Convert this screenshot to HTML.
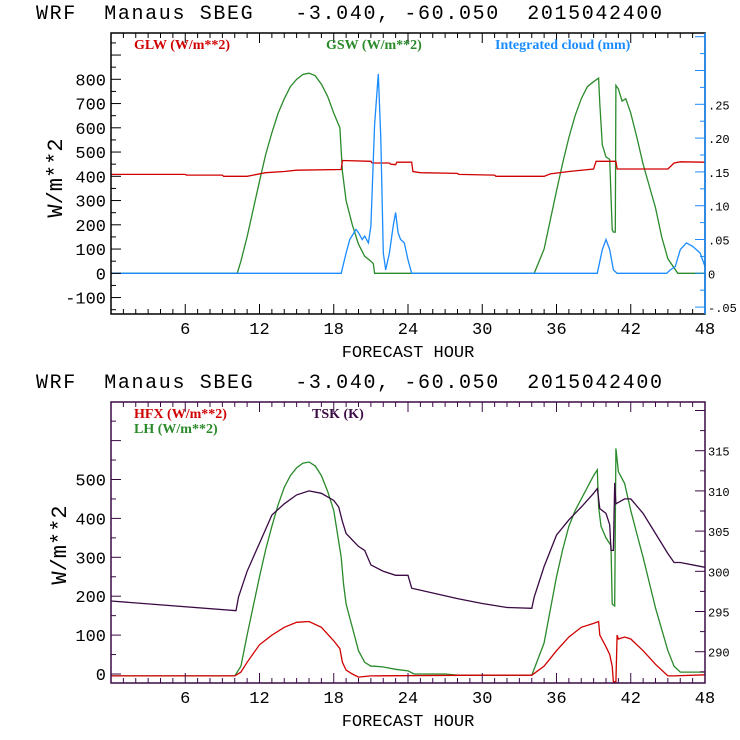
<!DOCTYPE html>
<html><head><meta charset="utf-8">
<style>
html,body{margin:0;padding:0;background:#fff;}
svg{display:block;font-family:"Liberation Mono",monospace;}
</style></head>
<body>
<svg id="chart" width="740" height="740" viewBox="0 0 740 740" xmlns="http://www.w3.org/2000/svg"></svg>
<script>
// ---------- data ----------
const xTicks = [6,12,18,24,30,36,42,48];
const topLeftTicks = [-100,0,100,200,300,400,500,600,700,800];
const topRightTicks = [-0.05,0,0.05,0.10,0.15,0.20,0.25];
const topRightLabels = ['-.05','0','.05','.10','.15','.20','.25'];
const botLeftTicks = [0,100,200,300,400,500];
const botRightTicks = [290,295,300,305,310,315];

const gswT = [0,10.2,10.5,11,11.5,12,12.5,13,13.5,14,14.5,15,15.5,16,16.5,17,17.5,18,18.5,18.7,19,19.5,20,20.5,21,21.2,21.3,34.2,35,35.5,36,36.5,37,37.5,38,38.5,39,39.4,39.5,39.7,40,40.3,40.5,40.6,40.75,40.8,41,41.3,41.6,42,42.5,43,43.5,44,44.5,45,45.8,48];
const gswV = [0,0,50,150,265,380,490,580,660,720,770,800,820,825,815,780,730,660,600,420,300,200,120,70,50,40,0,0,100,220,340,455,560,650,720,770,790,805,700,530,480,470,180,170,170,775,760,710,720,660,560,450,360,270,150,60,0,0];

const glwT = [0,6,6.1,9,9.1,11,11.5,12.5,14,15,18.6,18.7,21,21.1,22.5,22.6,23,23.1,24.3,24.4,25,28,28.1,31,31.1,35,35.5,37,39,39.2,40.8,40.9,45,45.5,46,48];
const glwV = [408,408,405,405,400,400,405,415,420,425,428,465,462,455,455,450,448,458,458,420,415,412,408,405,400,400,410,420,430,462,462,430,430,455,460,458];

const cloudT = [0,18.6,19,19.3,19.8,20,20.3,20.5,20.8,21,21.3,21.6,21.8,22,22.2,22.5,22.8,23,23.2,23.4,23.7,24,24.3,39.3,39.7,40,40.3,40.6,40.9,44.9,45.2,45.6,46,46.5,47,47.6,48];
const cloudV = [0,0,0.03,0.05,0.065,0.06,0.05,0.055,0.045,0.07,0.22,0.295,0.2,0.03,0.005,0.03,0.07,0.09,0.06,0.05,0.045,0.02,0,0,0.035,0.05,0.035,0.005,0,0,0.005,0.01,0.035,0.045,0.04,0.03,0.01];

const lhT = [0,10,10.5,11,11.5,12,12.5,13,13.5,14,14.5,15,15.5,16,16.5,17,17.5,18,18.6,18.8,19,19.5,20,20.5,21,21.3,22,23,24,24.5,27,28,34,35,35.5,36,36.5,37,37.5,38,38.5,39,39.3,39.4,39.6,40,40.4,40.5,40.7,40.8,41,41.5,42,42.5,43,43.5,44,45,45.5,46,48];
const lhV = [-5,-5,20,100,175,250,320,380,435,480,510,530,542,545,535,510,470,420,300,230,180,120,60,30,20,20,18,12,8,0,0,-3,-3,80,165,250,320,380,420,450,480,510,525,430,380,350,330,180,175,580,520,490,420,360,300,235,170,60,20,5,5];

const tskT = [0,10.1,10.3,11,12,13,14,15,16,17,18,18.4,18.7,19,20,20.5,21,22,23,24,24.3,26,28,30,32,34,34.2,35,36,37,38,39,39.3,39.5,40,40.3,40.4,40.6,40.7,40.8,41.5,42,43,44,45,45.5,46,48];
const tskV = [296.3,295.1,296.8,300,303.5,307,308.4,309.5,310,309.7,308.8,308,306.2,304.7,303.1,302.6,300.8,300,299.5,299.5,297.9,297.3,296.6,296,295.5,295.4,296.8,300.6,304.5,306.4,308,309.7,310.3,307.8,307.2,305.8,302.6,302.6,311,308.4,309,309,307.2,304.7,302.2,301.1,301.1,300.5];

const hfxT = [0,10,10.5,11,12,13,14,15,16,17,18,18.5,18.7,19,19.5,20,21,30,34,35,36,37,38,39,39.4,39.5,40,40.3,40.5,40.6,40.8,40.9,41,41.5,42,43,44,45,45.5,48];
const hfxV = [-5,-5,5,30,75,100,120,133,135,120,85,65,30,10,0,-8,-5,-3,-3,20,60,95,120,130,135,100,70,50,20,-20,-20,100,90,95,90,60,25,-5,-5,-2];

// ---------- drawing ----------
const svg = document.getElementById('chart');
const NS = 'http://www.w3.org/2000/svg';
function mk(tag, attrs, parent){
  const e = document.createElementNS(NS, tag);
  for (const k in attrs) e.setAttribute(k, attrs[k]);
  (parent||svg).appendChild(e);
  return e;
}
const RED='#d00000', GREEN='#2a8a2a', BLUE='#1a8cff', PURPLE='#3b0a45';
const X0=111, X1=705;
const xs = h => X0 + (h/48)*(X1-X0);

function panel(cfg){
  const g = mk('g',{});
  
  
  const t = mk('text',{x:36,y:cfg.top-14,'font-size':20,fill:'#000',textLength:626,lengthAdjust:'spacing'},g);
  t.setAttribute('xml:space','preserve');
  t.style.whiteSpace='pre';
  t.textContent='WRF  Manaus SBEG   -3.040, -60.050  2015042400';
  
  
  cfg.series.forEach(s=>{
    let d='';
    s.t.forEach((h,i)=>{ d += (i?'L':'M') + xs(h).toFixed(1) + ' ' + s.y(s.v[i]).toFixed(1); });
    const p = mk('path',{d:d,fill:'none',stroke:s.color,'stroke-width':1.3},g);
    
    
  });
  const fr = mk('rect',{x:X0,y:cfg.top,width:X1-X0,height:cfg.bot-cfg.top,fill:'none',stroke:cfg.frame,'stroke-width':1.5},g);
  
  
  if (cfg.rightColor){ mk('line',{x1:X1,y1:cfg.top,x2:X1,y2:cfg.bot,stroke:cfg.rightColor,'stroke-width':1.5},g); }
  for (let h=1;h<48;h++){
    const len = (h%6===0)?10:5;
    mk('line',{x1:xs(h),y1:cfg.bot,x2:xs(h),y2:cfg.bot-len,stroke:cfg.frame,'stroke-width':1},g);
    mk('line',{x1:xs(h),y1:cfg.top,x2:xs(h),y2:cfg.top+len,stroke:cfg.frame,'stroke-width':1},g);
  }
  xTicks.forEach(h=>{
    const l = mk('text',{x:xs(h),y:cfg.bot+20,'font-size':17,'text-anchor':'middle',fill:'#000'},g);
    l.textContent=h;
    
    
  });
  const xt = mk('text',{x:408,y:cfg.bot+43,'font-size':17,'text-anchor':'middle',fill:'#000'},g);
  xt.textContent='FORECAST HOUR';
  
  
  for (let v=cfg.lmin; v<=cfg.lmax; v+=cfg.lminor){
    const y=cfg.ly(v); if (y<cfg.top||y>cfg.bot) continue;
    const major = Math.round(v/cfg.lmajor)*cfg.lmajor===v;
    mk('line',{x1:X0,y1:y,x2:X0+(major?10:5),y2:y,stroke:cfg.frame,'stroke-width':1},g);
  }
  cfg.lticks.forEach(v=>{
    const l = mk('text',{x:X0-5,y:cfg.ly(v)+6,'font-size':17,'text-anchor':'end',fill:'#000'},g);
    l.textContent=v;
    
    
  });
  const rc = cfg.rightColor||cfg.frame;
  for (let v=cfg.rmin; v<=cfg.rmax+1e-9; v+=cfg.rminor){
    const y=cfg.ry(v); if (y<cfg.top||y>cfg.bot) continue;
    const major = Math.abs(Math.round(v/cfg.rmajor)*cfg.rmajor - v)<1e-9;
    mk('line',{x1:X1,y1:y,x2:X1-(major?10:5),y2:y,stroke:rc,'stroke-width':1},g);
  }
  cfg.rticks.forEach((v,i)=>{
    const l = mk('text',{x:X1+3,y:cfg.ry(v)+5,'font-size':12,fill:'#000'},g);
    l.textContent=cfg.rlabels[i];
    
    
  });
  const yt = mk('text',{x:0,y:0,'font-size':22,'text-anchor':'middle',fill:'#000',transform:`translate(${cfg.ytx},${cfg.yty}) rotate(-90)`},g);
  yt.textContent='W/m**2';
  
  
  cfg.legend.forEach(L=>{
    const l = mk('text',{x:L.x,y:L.y,'font-size':14,'font-weight':'bold',fill:L.color,'font-family':'Liberation Serif, serif'},g);
    l.textContent=L.text;
    
    
  });
}

const tly = v => 273.3 - v*0.2425;
const tcy = v => 273.3 - v*(169/0.25);
panel({name:'radiation-panel',top:33,bot:314,frame:'#000',rightColor:BLUE,
  ly:tly,lmin:-150,lmax:950,lminor:50,lmajor:100,lticks:topLeftTicks,
  ry:tcy,rmin:-0.05,rmax:0.35,rminor:0.025,rmajor:0.05,rticks:topRightTicks,rlabels:topRightLabels,
  ytx:62,yty:178,
  series:[
    {name:'gsw-line',t:gswT,v:gswV,y:tly,color:GREEN},
    {name:'glw-line',t:glwT,v:glwV,y:tly,color:RED},
    {name:'cloud-line',t:cloudT,v:cloudV,y:tcy,color:BLUE}
  ],
  legend:[
    {x:134,y:49,text:'GLW (W/m**2)',color:RED},
    {x:326,y:49,text:'GSW (W/m**2)',color:GREEN},
    {x:495,y:49,text:'Integrated cloud (mm)',color:BLUE}
  ]});

const bly = v => 674 - v*0.389;
const bry = v => 450.7 + (315-v)*(201/25);
panel({name:'flux-panel',top:402,bot:683,frame:PURPLE,rightColor:null,
  ly:bly,lmin:-50,lmax:700,lminor:50,lmajor:100,lticks:botLeftTicks,
  ry:bry,rmin:285,rmax:320,rminor:2.5,rmajor:5,rticks:botRightTicks,rlabels:botRightTicks.map(String),
  ytx:66,yty:545,
  series:[
    {name:'lh-line',t:lhT,v:lhV,y:bly,color:GREEN},
    {name:'tsk-line',t:tskT,v:tskV,y:bry,color:PURPLE},
    {name:'hfx-line',t:hfxT,v:hfxV,y:bly,color:RED}
  ],
  legend:[
    {x:134,y:418,text:'HFX (W/m**2)',color:RED},
    {x:134,y:433,text:'LH  (W/m**2)',color:GREEN},
    {x:312,y:418,text:'TSK (K)',color:PURPLE}
  ]});
</script>
</body></html>
